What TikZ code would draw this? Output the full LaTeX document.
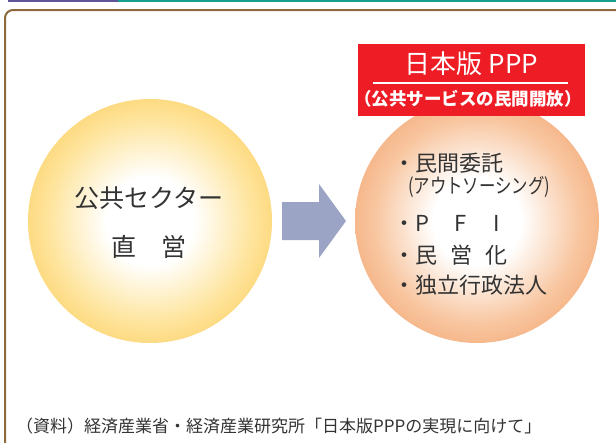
\documentclass[tikz,border=0pt]{standalone}
\usepackage{fontspec}
\setmainfont{Noto Sans CJK JP}
\definecolor{purp}{RGB}{94,84,151}
\definecolor{tealbar}{RGB}{22,160,140}
\definecolor{framecol}{RGB}{139,105,58}
\definecolor{pppred}{RGB}{237,28,37}
\definecolor{arrowcol}{RGB}{156,164,198}
\definecolor{txtcol}{RGB}{51,51,51}
\definecolor{yedge}{RGB}{252,198,74}
\definecolor{ymid}{RGB}{254,228,156}
\definecolor{oedge}{RGB}{242,152,96}
\definecolor{omid}{RGB}{248,198,160}
\pgfdeclareradialshading{ballY}{\pgfpoint{0bp}{0bp}}{color(0bp)=(white); color(9bp)=(white); color(21bp)=(ymid); color(34bp)=(yedge); color(50bp)=(yedge)}
\pgfdeclareradialshading{ballO}{\pgfpoint{0bp}{0bp}}{color(0bp)=(white); color(9bp)=(white); color(21bp)=(omid); color(34bp)=(oedge); color(50bp)=(oedge)}
\tikzset{
  ball/.style={circle, minimum size=244pt, inner sep=0pt},
  txt/.style={inner sep=0pt, text=txtcol},
  bigtxt/.style={txt, font=\fontsize{25}{30}\selectfont},
  midtxt/.style={txt, anchor=west, font=\fontsize{22}{26}\selectfont},
}
\begin{document}
\begin{tikzpicture}[x=1pt,y=-1pt]
\useasboundingbox (0,0) rectangle (616,442);
% top bar
\fill[purp] (8,0) rectangle (118,2.3);
\fill[tealbar] (118,0) rectangle (616,2.3);
% frame
\draw[framecol, line width=2pt, rounded corners=8pt] (5,10) rectangle (640,470);
% circles
\node[ball, shading=ballY] (pub) at (150,221) {};
\node[ball, shading=ballO] (priv) at (477,221) {};
% block arrow
\fill[arrowcol] (282,202) -- (319,202) -- (319,184) -- (346,221) -- (319,258) -- (319,240) -- (282,240) -- cycle;
% red label box
\node[fill=pppred, minimum width=227pt, minimum height=72pt, inner sep=0pt] (ppp) at (471.5,80) {};
\node[inner sep=0pt, text=white, font=\fontsize{26}{30}\selectfont] (ppptitle) at (471.5,64) {日本版 PPP};
\draw[white, line width=1.5pt] (373,83) -- (568,83);
\node[inner sep=0pt, text=white, font=\fontsize{17.5}{20}\selectfont\bfseries] (pppsub) at (468,99) {（公共サービスの民間開放）};
% left text
\node[bigtxt] (pub1) at (149,198) {公共セクター};
\node[bigtxt] (pub2) at (149,247) {直　営};
% right text
\node[midtxt] (r1) at (393,163) {・民間委託};
\node[txt, anchor=west, font=\fontsize{20.5}{24}\selectfont] (r2) at (408,187) {\scalebox{0.8}[1]{(アウトソーシング)}};
\node[midtxt] (r3) at (393,223) {・P\hspace{25pt}F\hspace{27pt}I};
\node[midtxt] (r4) at (393,255) {・民\hspace{13pt}営\hspace{13pt}化};
\node[midtxt] (r5) at (393,285) {・独立行政法人};
% source
\node[txt, anchor=west, font=\fontsize{17}{20}\selectfont] (src) at (16,426) {（資料）経済産業省・経済産業研究所「日本版PPPの実現に向けて」};
\end{tikzpicture}
\end{document}
